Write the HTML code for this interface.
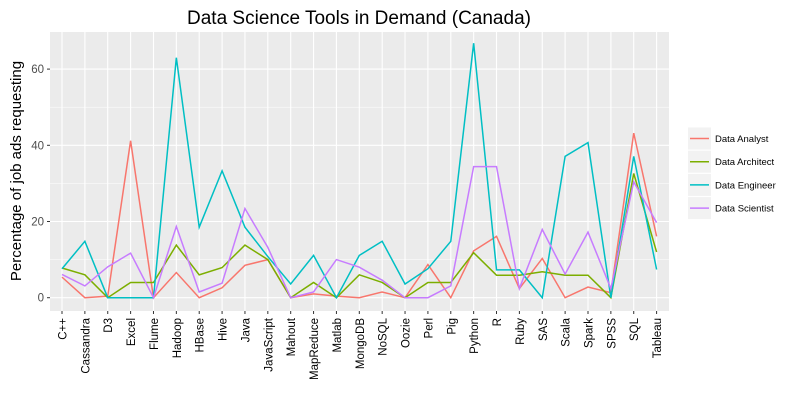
<!DOCTYPE html>
<html><head><meta charset="utf-8"><style>
body{margin:0;background:#fff;width:800px;height:414px;overflow:hidden;font-family:"Liberation Sans",Arial,sans-serif}
</style></head><body>
<svg id="chart" width="800" height="414" xmlns="http://www.w3.org/2000/svg">
<text x="359" y="24" font-size="19" text-anchor="middle" fill="#000">Data Science Tools in Demand (Canada)</text>
<rect x="50" y="32" width="619" height="279" fill="#ebebeb"/>
<g id="grid"></g>
<g id="lines"></g>
<g id="axes"></g>
<text transform="translate(21,171) rotate(-90)" font-size="15" text-anchor="middle" fill="#000">Percentage of job ads requesting</text>
<g id="legend"></g>
</svg>
<script>
const categories=["C++","Cassandra","D3","Excel","Flume","Hadoop","HBase","Hive","Java","JavaScript","Mahout","MapReduce","Matlab","MongoDB","NoSQL","Oozie","Perl","Pig","Python","R","Ruby","SAS","Scala","Spark","SPSS","SQL","Tableau"];
const seriesNames=["Data Analyst","Data Architect","Data Engineer","Data Scientist"];
const analyst=[5.4,0,0.4,41.2,0,6.6,0,2.6,8.5,10,0,1,0.4,0,1.5,0,8.7,0,12.3,16.1,2.4,10.3,0,2.8,1.3,43.2,16.1];
const architect=[7.8,6,0,4,4,13.8,6,7.9,13.8,10,0,4,0,6,4,0,4,4,11.8,5.9,5.9,6.8,5.9,5.9,0,32.6,12];
const engineer=[7.6,14.8,0,0,0,63,18.5,33.3,18.5,10.8,3.6,11.1,0,11.1,14.8,3.6,7.6,14.8,66.8,7.3,7.3,0,37.1,40.7,0,37.1,7.4];
const scientist=[6.1,3.1,8.1,11.7,0,18.7,1.5,3.8,23.4,13.2,0,1.5,10,8,4.6,0,0,3.1,34.4,34.4,2.4,17.9,6.2,17.2,2.4,30.4,19.7];
const yTicks=[0,20,40,60];
const colors=["#f8766d","#7cae00","#00bfc4","#c77cff"];
const ns="http://www.w3.org/2000/svg";
function xs(i){return 62+i*(594.6/(categories.length-1));}
function ys(v){return 297.7-v*3.81;}
function mk(tag,attrs,parent){const e=document.createElementNS(ns,tag);for(const k in attrs)e.setAttribute(k,attrs[k]);parent.appendChild(e);return e;}
const grid=document.getElementById('grid'),axes=document.getElementById('axes'),lines=document.getElementById('lines');
for(let v=-10;v<=70;v+=10){const y=ys(v);if(y<32||y>311)continue;const g=mk('line',{x1:50,x2:669,y1:y,y2:y,stroke:'#fff','stroke-width':yTicks.includes(v)?1.1:0.5},grid);}
categories.forEach((c,i)=>{const x=xs(i);const g=mk('line',{x1:x,x2:x,y1:32,y2:311,stroke:'#fff','stroke-width':1.1},grid);
const t=mk('line',{x1:x,x2:x,y1:311,y2:314,stroke:'#333','stroke-width':1},axes);
const l=mk('text',{transform:`translate(${x+4.5},318) rotate(-90)`,'font-size':11.5,'text-anchor':'end',fill:'#000'},axes);l.textContent=c;});
yTicks.forEach(v=>{const y=ys(v);const t=mk('line',{x1:47,x2:50,y1:y,y2:y,stroke:'#333'},axes);
const l=mk('text',{x:44,y:y+4,'font-size':11.5,'text-anchor':'end',fill:'#4d4d4d'},axes);l.textContent=v;});
[analyst,architect,engineer,scientist].forEach((s,k)=>{const p=mk('polyline',{points:s.map((v,i)=>xs(i)+','+ys(v)).join(' '),fill:'none',stroke:colors[k],'stroke-width':1.5},lines);});
const lg=document.getElementById('legend');
seriesNames.forEach((n,k)=>{const cy=138.5+k*23.2;const b=mk('rect',{x:688,y:cy-11,width:23,height:22,fill:'#f2f2f2'},lg);
const l=mk('line',{x1:690,x2:709,y1:cy,y2:cy,stroke:colors[k],'stroke-width':1.5},lg);
const t=mk('text',{x:715,y:cy+3.5,'font-size':9.5,fill:'#000'},lg);t.textContent=n;});
</script>
</body></html>
